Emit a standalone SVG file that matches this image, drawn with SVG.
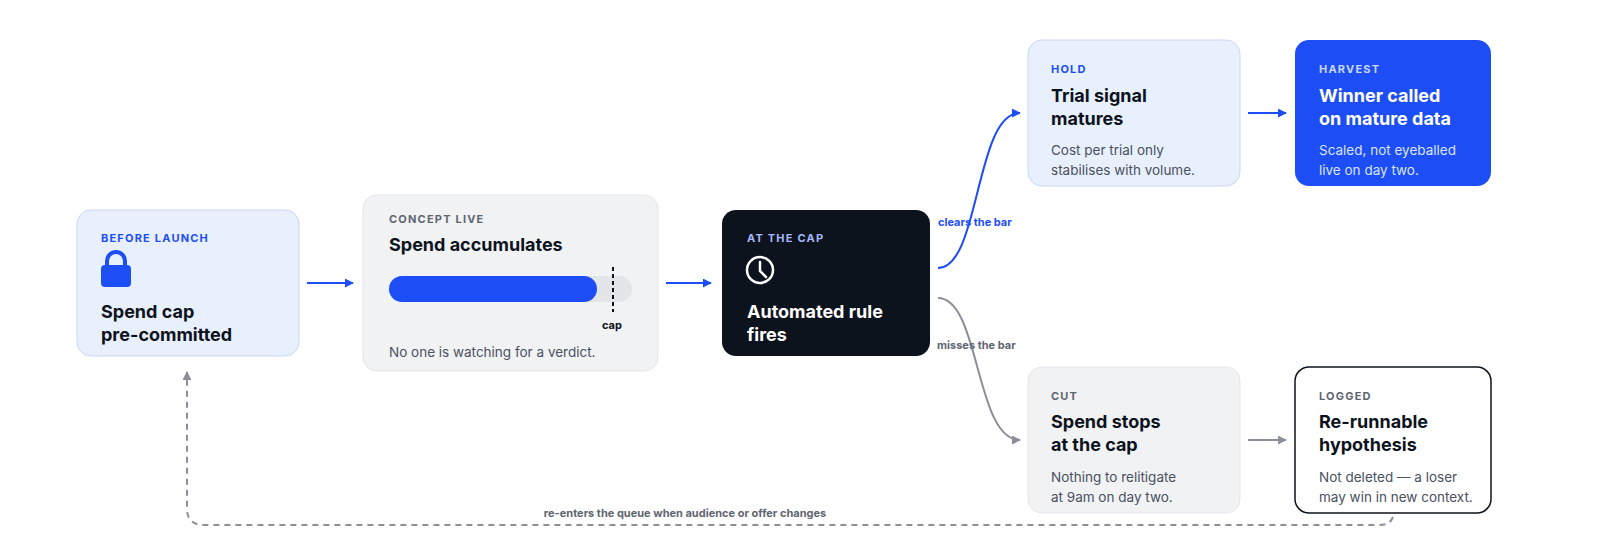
<svg xmlns="http://www.w3.org/2000/svg" width="1600" height="560" viewBox="0 0 1600 560">
<style>
text{font-family:Inter,"Noto Sans","Liberation Sans",sans-serif}
.lab{font-size:11px;font-weight:700;letter-spacing:1.2px}
.tit{font-size:18px;font-weight:700;fill:#0d131c}
.body{font-size:13.5px;fill:#4a5160}
.el{font-size:11px;font-weight:700}
</style>
<defs>
<marker id="ab" viewBox="0 0 10 10" refX="9" refY="5" markerWidth="9" markerHeight="9" markerUnits="userSpaceOnUse" orient="auto"><path d="M0,0L10,5L0,10z" fill="#1d4ef5"/></marker>
<marker id="ag" viewBox="0 0 10 10" refX="9" refY="5" markerWidth="9" markerHeight="9" markerUnits="userSpaceOnUse" orient="auto"><path d="M0,0L10,5L0,10z" fill="#8a8f99"/></marker>
</defs>
<rect width="1600" height="560" fill="#fff"/>
<g id="connectors" fill="none" stroke-width="2">
<path d="M307,283H353" stroke="#1d4ef5" marker-end="url(#ab)"/>
<path d="M666,283H711" stroke="#1d4ef5" marker-end="url(#ab)"/>
<path d="M938,268C980,268 975,113 1020,113" stroke="#1d4ef5" marker-end="url(#ab)"/>
<path d="M938,298C980,298 975,440 1020,440" stroke="#8a8f99" marker-end="url(#ag)"/>
<path d="M1248,113H1286" stroke="#1d4ef5" marker-end="url(#ab)"/>
<path d="M1248,440H1286" stroke="#8a8f99" marker-end="url(#ag)"/>
<path d="M1393,517C1390,524 1386,525 1378,525H203C193,525 187,519 187,509V372" stroke="#8a8f99" stroke-dasharray="6 5" marker-end="url(#ag)"/>
<text x="938" y="226" class="el" fill="#1d4ef5" stroke="none">clears the bar</text>
<text x="937" y="349" class="el" fill="#5f6570" stroke="none">misses the bar</text>
<text x="685" y="517" class="el" fill="#5f6570" stroke="none" text-anchor="middle">re-enters the queue when audience or offer changes</text>
</g>
<g id="before">
<rect x="77" y="210" width="222" height="146" rx="14" fill="#e8effd" stroke="#c9d7f7"/>
<text x="101" y="242" class="lab" fill="#1d4ef5">BEFORE LAUNCH</text>
<path d="M107,266V261a9,9 0 0 1 18,0V266" fill="none" stroke="#1d4ef5" stroke-width="4"/>
<rect x="101" y="265" width="30" height="22" rx="4" fill="#1d4ef5"/>
<text x="101" y="318" class="tit">Spend cap</text>
<text x="101" y="341" class="tit">pre-committed</text>
</g>
<g id="live">
<rect x="363" y="195" width="295" height="176" rx="14" fill="#f1f2f4" stroke="#e3e5e9"/>
<text x="389" y="223" class="lab" fill="#5f6570">CONCEPT LIVE</text>
<text x="389" y="251" class="tit">Spend accumulates</text>
<rect x="389" y="276" width="243" height="26" rx="13" fill="#e3e5e9"/>
<rect x="389" y="276" width="208" height="26" rx="13" fill="#1d4ef5"/>
<path d="M613,267V312" stroke="#0d131c" stroke-width="2" stroke-dasharray="4 3"/>
<text x="602" y="329" class="el" fill="#0d131c">cap</text>
<text x="389" y="357" class="body">No one is watching for a verdict.</text>
</g>
<g id="cap">
<rect x="722" y="210" width="208" height="146" rx="14" fill="#0d131c"/>
<text x="747" y="242" class="lab" fill="#a5b8ff">AT THE CAP</text>
<circle cx="760" cy="270" r="13" fill="none" stroke="#fff" stroke-width="2.5"/>
<path d="M760,262V271L766,277" fill="none" stroke="#fff" stroke-width="2.5" stroke-linecap="round"/>
<text x="747" y="318" class="tit" fill="#fff" style="fill:#fff">Automated rule</text>
<text x="747" y="341" class="tit" style="fill:#fff">fires</text>
</g>
<g id="hold">
<rect x="1028" y="40" width="212" height="146" rx="14" fill="#e8effd" stroke="#c9d7f7"/>
<text x="1051" y="73" class="lab" fill="#1d4ef5">HOLD</text>
<text x="1051" y="102" class="tit">Trial signal</text>
<text x="1051" y="125" class="tit">matures</text>
<text x="1051" y="155" class="body">Cost per trial only</text>
<text x="1051" y="175" class="body">stabilises with volume.</text>
</g>
<g id="harvest">
<rect x="1295" y="40" width="196" height="146" rx="14" fill="#1d4ef5"/>
<text x="1319" y="73" class="lab" fill="#c9d7ff">HARVEST</text>
<text x="1319" y="102" class="tit" style="fill:#fff">Winner called</text>
<text x="1319" y="125" class="tit" style="fill:#fff">on mature data</text>
<text x="1319" y="155" class="body" style="fill:#dbe4ff">Scaled, not eyeballed</text>
<text x="1319" y="175" class="body" style="fill:#dbe4ff">live on day two.</text>
</g>
<g id="cut">
<rect x="1028" y="367" width="212" height="146" rx="14" fill="#f1f2f4" stroke="#e3e5e9"/>
<text x="1051" y="400" class="lab" fill="#5f6570">CUT</text>
<text x="1051" y="428" class="tit">Spend stops</text>
<text x="1051" y="451" class="tit">at the cap</text>
<text x="1051" y="482" class="body">Nothing to relitigate</text>
<text x="1051" y="502" class="body">at 9am on day two.</text>
</g>
<g id="logged">
<rect x="1295" y="367" width="196" height="146" rx="14" fill="#fff" stroke="#0d131c" stroke-width="1.5"/>
<text x="1319" y="400" class="lab" fill="#5f6570">LOGGED</text>
<text x="1319" y="428" class="tit">Re-runnable</text>
<text x="1319" y="451" class="tit">hypothesis</text>
<text x="1319" y="482" class="body">Not deleted — a loser</text>
<text x="1319" y="502" class="body">may win in new context.</text>
</g>
</svg>
